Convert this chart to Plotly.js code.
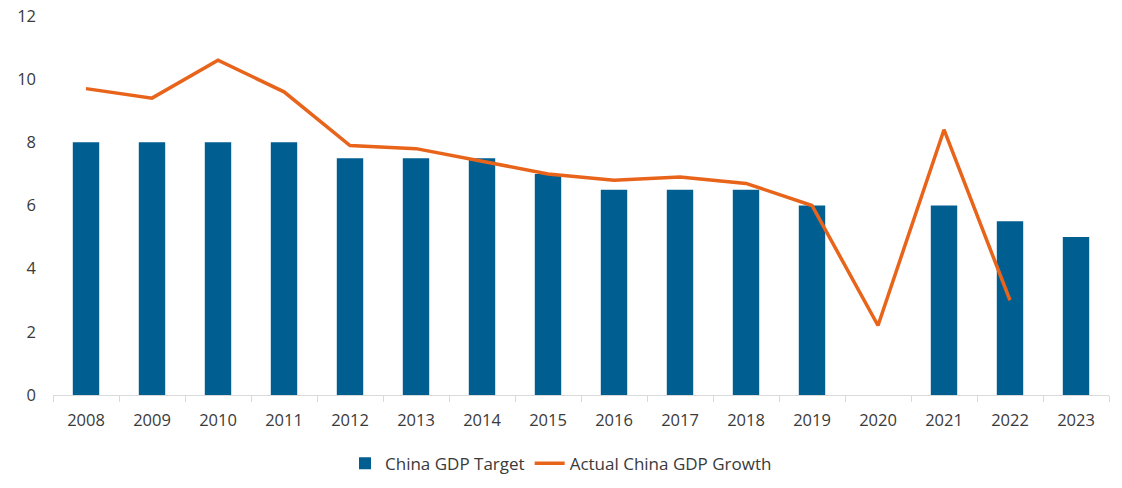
<!DOCTYPE html>
<html><head><meta charset="utf-8">
<script src="https://cdn.plot.ly/plotly-3.0.1.min.js"></script>
<style>html,body{margin:0;padding:0;background:#fff}#chart{width:1122px;height:488px}</style>
</head><body><div id="chart"></div>
<script>
const years = ["2008","2009","2010","2011","2012","2013","2014","2015","2016","2017","2018","2019","2020","2021","2022","2023"];
const gdpTarget = [8,8,8,8,7.5,7.5,7.5,7,6.5,6.5,6.5,6,null,6,5.5,5];
const gdpActual = [9.7,9.4,10.6,9.6,7.9,7.8,7.4,7.0,6.8,6.9,6.7,6.0,2.2,8.4,3.0,null];
const yTicks = [0,2,4,6,8,10,12];

const traces = [
  {type:'bar', x:years, y:gdpTarget, name:'China GDP Target', marker:{color:'#005E90'}, hoverinfo:'x+y'},
  {type:'scatter', mode:'lines', x:years, y:gdpActual, name:'Actual China GDP Growth', line:{color:'#E8641B', width:3.5}, connectgaps:false}
];
const layout = {
  width:1122, height:488,
  margin:{l:53, r:13, t:16, b:93},
  paper_bgcolor:'#fff', plot_bgcolor:'#fff',
  font:{family:'"Open Sans", "Noto Sans", sans-serif', size:16, color:'#3a3a3a'},
  bargap:0.6,
  showlegend:true,
  legend:{orientation:'h', x:0.5, xanchor:'center', xref:'container', yref:'container', y:0.05, yanchor:'middle', font:{size:17, color:'#3a3a3a'}, traceorder:'normal', entrywidth:0},
  xaxis:{type:'category', showgrid:false, showline:true, linecolor:'#d9d9d9', linewidth:1, automargin:false,
         ticks:'outside', tickson:'boundaries', ticklen:6, tickcolor:'#d9d9d9', zeroline:false,
         ticklabelstandoff:10, tickfont:{size:16.5, color:'#3a3a3a'}},
  yaxis:{range:[0,12], tickvals:yTicks, ticktext:yTicks.map(String), showgrid:false, zeroline:false, showline:false, automargin:false,
         ticks:'', ticklabelstandoff:16, tickfont:{size:16.5, color:'#3a3a3a'}}
};
Plotly.newPlot('chart', traces, layout, {displayModeBar:false, staticPlot:true});
</script>
</body></html>
